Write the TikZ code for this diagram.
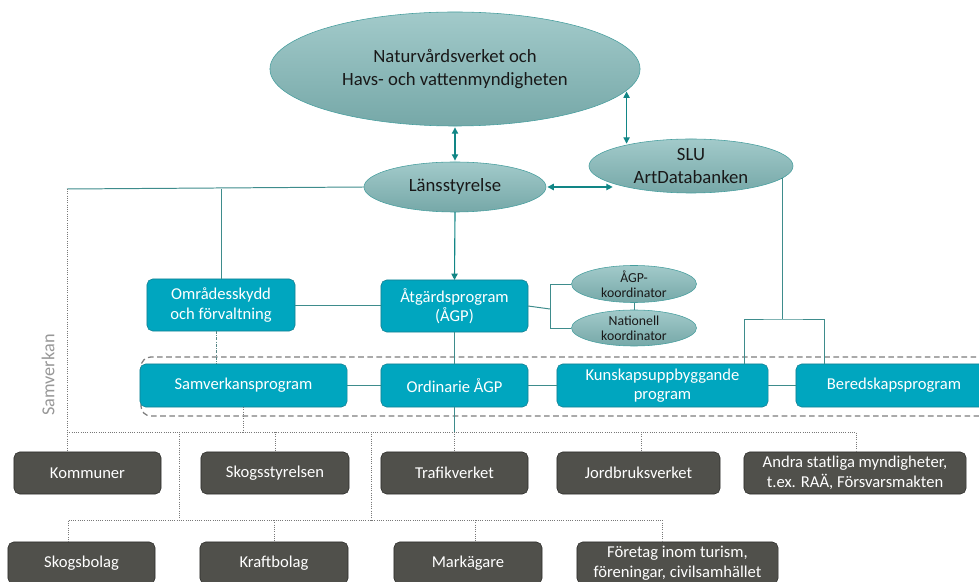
\documentclass[tikz,border=0pt]{standalone}
\usepackage{fontspec}
\setmainfont{Carlito}
\usetikzlibrary{arrows.meta}
\usetikzlibrary{shapes.geometric}
\tikzset{prog/.style={draw=progline, fill=progfill, text=white, rounded corners=4pt, minimum height=1.075cm, inner sep=0pt, outer sep=0pt, align=center, font=\fontsize{11.8}{14}\selectfont},
	actor/.style={draw=actline, fill=actfill, text=white, rounded corners=4pt, minimum height=1.05cm, inner sep=0pt, outer sep=0pt, align=center, font=\fontsize{11.8}{14.5}\selectfont},
	ell/.style={ellipse, draw=ellline, top color=elltop, bottom color=ellbot, text=elltext, inner xsep=0pt, inner ysep=-2pt, outer sep=0pt, align=center},
	link/.style={draw=linkc, line width=0.7pt},
	dbl/.style={{Triangle[width=4.5pt,length=4.5pt]}-{Triangle[width=4.5pt,length=4.5pt]}, draw=arrowc, line width=0.8pt, shorten <=1pt, shorten >=1pt},
	dots/.style={draw=dotc, densely dotted, line width=0.6pt},
	band/.style={draw=bandc, dashed, dash pattern=on 4pt off 2.5pt, line width=0.9pt, rounded corners=7pt}}

\begin{document}
\begin{tikzpicture}[x=0.025cm, y=-0.025cm]
	
	\definecolor{progfill}{RGB}{0,166,191}
	\definecolor{progline}{RGB}{22,128,146}
	\definecolor{actfill}{RGB}{80,80,75}
	\definecolor{actline}{RGB}{45,45,42}
	\definecolor{elltop}{RGB}{162,202,202}
	\definecolor{ellbot}{RGB}{118,168,168}
	\definecolor{ellline}{RGB}{70,158,158}
	\definecolor{elltext}{RGB}{25,25,25}
	\definecolor{linkc}{RGB}{62,140,140}
	\definecolor{arrowc}{RGB}{18,134,134}
	\definecolor{dotc}{RGB}{120,120,120}
	\definecolor{bandc}{RGB}{125,125,125}
	
	\useasboundingbox (0,0) rectangle (979,582);
	\clip (0,0) rectangle (979,582);
	
	% agencies
	\node[ell, minimum width=9.25cm, minimum height=2.85cm, font=\fontsize{13.3}{16.3}\selectfont] (nvv) at (455,69) {Naturvårdsverket och\\Havs- och vattenmyndigheten};
	\node[ell, minimum width=4.55cm, minimum height=1.25cm, font=\fontsize{13.3}{16.3}\selectfont] (lans) at (455,187) {Länsstyrelse};
	\node[ell, minimum width=5.1cm, minimum height=1.35cm, font=\fontsize{13.3}{16.3}\selectfont] (slu) at (691,166) {SLU\\ArtDatabanken};
	
	% programmes
	\node[prog, minimum width=3.7cm, minimum height=1.3cm] (omr) at (221,305) {Områdesskydd\\och förvaltning};
	\node[prog, minimum width=3.675cm, minimum height=1.3cm] (agp) at (454.5,306) {Åtgärdsprogram\\(ÅGP)};
	\node[ell, minimum width=3.125cm, minimum height=0.925cm, font=\fontsize{9.8}{10.6}\selectfont] (agpk) at (634,284) {ÅGP-\\koordinator};
	\node[ell, minimum width=3.125cm, minimum height=0.9cm, font=\fontsize{9.8}{10.6}\selectfont] (natk) at (634,328) {Nationell\\koordinator};
	
	% samverkan band
	\draw[band] (141,357) rectangle (1000,416);
	\node[text=bandc!80, rotate=90, font=\fontsize{13}{15}\selectfont] (samvlabel) at (48,375) {Samverkan};
	\node[prog, minimum width=5.175cm] (samv) at (243.5,385.5) {Samverkansprogram};
	\node[prog, minimum width=3.675cm] (ord) at (454.5,385.5) {Ordinarie ÅGP};
	\node[prog, minimum width=5.275cm, font=\fontsize{11.8}{13.5}\selectfont] (kun) at (662.5,385.5) {Kunskapsuppbyggande\\program};
	\node[prog, minimum width=4.9cm] (ber) at (894,385.5) {Beredskapsprogram};
	
	% actors, first row
	\node[actor, minimum width=3.675cm] (kom) at (87.5,473) {Kommuner};
	\node[actor, minimum width=3.7cm] (skst) at (275,473) {Skogsstyrelsen};
	\node[actor, minimum width=3.675cm] (traf) at (454.5,473) {Trafikverket};
	\node[actor, minimum width=4.075cm] (jord) at (638.5,473) {Jordbruksverket};
	\node[actor, minimum width=5.55cm] (andra) at (855,473) {Andra statliga myndigheter,\\t.ex. RAÄ, Försvarsmakten};
	
	% actors, second row
	\node[actor, minimum width=3.675cm] (skb) at (81.5,563) {Skogsbolag};
	\node[actor, minimum width=3.7cm] (kraft) at (274,563) {Kraftbolag};
	\node[actor, minimum width=3.7cm] (mark) at (468,563) {Markägare};
	\node[actor, minimum width=5.025cm] (fore) at (677.5,563) {Företag inom turism,\\föreningar, civilsamhället};
	
	% junction points
	\coordinate (lansL) at (67,189);
	\coordinate (sluJ) at (782,319);
	\coordinate (kunT) at (744,364);
	\coordinate (berT) at (824,364);
	\coordinate (brk) at (550,309);
	\coordinate (busA) at (67,432);
	\coordinate (busB) at (856,432);
	\coordinate (busC) at (68,520);
	\coordinate (busD) at (662,520);
	\coordinate (busE) at (179,432);
	\coordinate (busF) at (371,432);
	\coordinate (dropM) at (475,520);
	
	% arrows between agencies
	\draw[dbl] (nvv.south) -- (lans.north);
	\draw[dbl] (slu.162 |- nvv.-7) -- (slu.162);
	\draw[dbl] (lans.east) -- (lans.east -| slu.193);
	\draw[-{Triangle[width=4.5pt,length=4.5pt]}, draw=arrowc, line width=0.8pt] (lans.south) -- (agp.north);
	
	% solid links
	\draw[link] (lans.west) -- (lansL);
	\draw[link] (omr.north |- lansL) -- (omr.north);
	\draw[link] (omr.east) -- (omr.east -| agp.west);
	\draw[link] (agp.east) -- (brk);
	\draw[link] (agpk.west) -- (agpk.west -| brk) -- (natk.west -| brk) -- (natk.west);
	\draw[link] (agpk.south) -- (natk.north);
	\draw[link] (agp.south) -- (ord.north);
	\draw[link] (samv.east) -- (ord.west);
	\draw[link] (ord.east) -- (kun.west);
	\draw[link] (kun.east) -- (ber.west);
	\draw[link] (slu.-8) -- (slu.-8 -| sluJ) -- (sluJ);
	\draw[link] (kunT) |- (sluJ) -| (berT);
	\draw[link] (ord.south) -- (ord.south |- busA);
	\draw[draw=linkc!60!gray, dash pattern=on 2pt off 1pt on 0.6pt off 1pt, line width=0.6pt] ([xshift=-0.125cm]omr.south) -- ([xshift=-0.125cm]omr.south |- samv.north);
	
	% dotted links to the actors
	\draw[dots] (lansL) -- (lansL |- kom.north);
	\draw[dots] (busA) -- (busB) -- (busB |- andra.north);
	\draw[dots] (samv.south) -- (samv.south |- busA);
	\draw[dots] (skst.north |- busA) -- (skst.north);
	\draw[dots] (traf.north |- busA) -- (traf.north);
	\draw[dots] ([xshift=0.075cm]jord.north |- busA) -- ([xshift=0.075cm]jord.north);
	\draw[dots] (busE) -- (busE |- busC);
	\draw[dots] (busF) -- (busF |- busC);
	\draw[dots] (busC |- skb.north) -- (busC) -- (busD) -- (busD |- fore.north);
	\draw[dots] (kraft.north |- busC) -- (kraft.north);
	\draw[dots] (dropM) -- (dropM |- mark.north);
	
\end{tikzpicture}
\end{document}
